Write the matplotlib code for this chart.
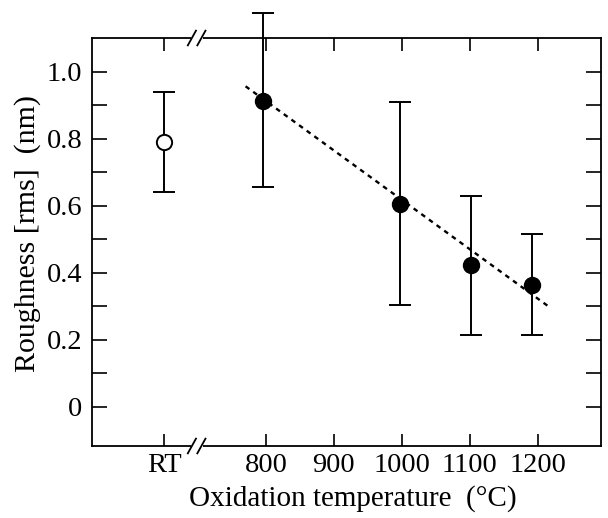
import matplotlib
matplotlib.use("Agg")
import matplotlib.pyplot as plt
from matplotlib.ticker import FixedLocator

plt.rcParams['font.family'] = ['Liberation Serif', 'DejaVu Serif']

# ---- data ----
tick_values = [650, 800, 900, 1000, 1100, 1200]
tick_labels = ['RT', '800', '900', '1000', '1100', '1200']
y_major = [0, 0.2, 0.4, 0.6, 0.8, 1.0]
y_major_labels = ['0', '0.2', '0.4', '0.6', '0.8', '1.0']
y_minor = [0.1, 0.3, 0.5, 0.7, 0.9]

rt_position = [650]
rt_roughness = [0.79]
rt_low = [0.64]
rt_high = [0.94]

temps = [796, 997, 1101, 1192]
roughness = [0.912, 0.606, 0.424, 0.364]
rough_low = [0.655, 0.303, 0.213, 0.215]
rough_high = [1.175, 0.908, 0.628, 0.516]

fit_x = [770, 1218]
fit_y = [0.956, 0.296]

break_x = 698

# ---- figure ----
fig = plt.figure(figsize=(6.08, 5.18), dpi=100)
ax = fig.add_axes([0.1513, 0.139, 0.8372, 0.7876])

ax.set_xlim(544, 1293)
ax.set_ylim(-0.117, 1.10)

# RT point (open)
eb = ax.errorbar(rt_position, rt_roughness,
                 yerr=[[r - l for r, l in zip(rt_roughness, rt_low)],
                       [h - r for r, h in zip(rt_roughness, rt_high)]],
                 fmt='o', mfc='white', mec='black', mew=1.4, ms=11,
                 ecolor='black', elinewidth=1.4, capsize=8, capthick=1.4,
                 color='black', zorder=3)

# oxidised points (filled)
eb2 = ax.errorbar(temps, roughness,
                  yerr=[[r - l for r, l in zip(roughness, rough_low)],
                        [h - r for r, h in zip(roughness, rough_high)]],
                  fmt='o', mfc='black', mec='black', ms=11.5,
                  ecolor='black', elinewidth=1.4, capsize=8, capthick=1.4,
                  color='black', zorder=3)
for cont in (eb, eb2):
    for a in cont.lines[1]:
        a.set_clip_on(False)
    for a in cont.lines[2]:
        a.set_clip_on(False)

# linear fit (dashed)
ax.plot(fit_x, fit_y, color='black', lw=1.7, linestyle=(0, (2, 2)), zorder=2)

# ticks
ax.set_xticks(tick_values)
ax.set_xticklabels(tick_labels)
ax.yaxis.set_major_locator(FixedLocator(y_major))
ax.yaxis.set_minor_locator(FixedLocator(y_minor))
ax.set_yticklabels(y_major_labels)
ax.tick_params(axis='both', which='both', direction='in', top=True, right=True,
               width=1.2, labelsize=20.5)
ax.tick_params(axis='y', which='major', length=11, pad=7)
ax.tick_params(axis='y', which='minor', length=11)
ax.tick_params(axis='x', which='major', length=9, pad=5)

for s in ax.spines.values():
    s.set_linewidth(1.3)

ax.set_xlabel('Oxidation temperature  (°C)', fontsize=21, labelpad=5)
ax.set_ylabel('Roughness [rms]  (nm)', fontsize=21.5, labelpad=4)
ax.xaxis.label.set_x(0.513)
ax.yaxis.label.set_y(0.522)

# axis break marks (bottom and top)
tr = ax.get_xaxis_transform()
for yb in (0, 1):
    ax.plot([break_x - 9, break_x + 9], [yb, yb], color='white', lw=4,
            transform=tr, clip_on=False, zorder=5, solid_capstyle='butt')
    for dx in (-7, 7):
        ax.plot([break_x + dx - 6, break_x + dx + 6], [yb - 0.018, yb + 0.018],
                color='black', lw=1.3, transform=tr, clip_on=False, zorder=6)

fig.savefig('out.png', dpi=100)
